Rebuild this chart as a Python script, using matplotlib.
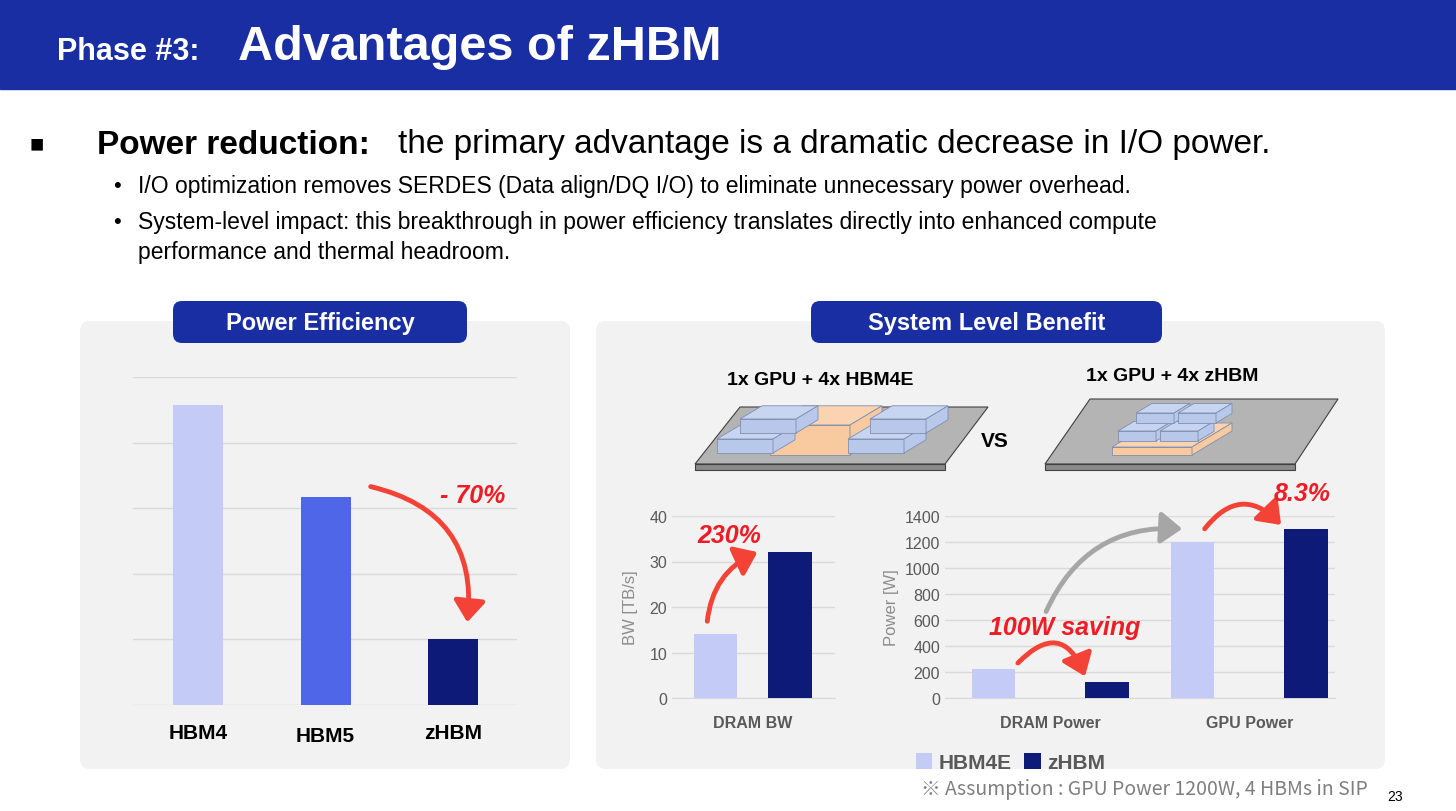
import matplotlib
matplotlib.use("Agg")
import matplotlib.pyplot as plt
from matplotlib.patches import FancyBboxPatch, Polygon, FancyArrowPatch, Rectangle
import numpy as np

plt.rcParams['font.family'] = ['Liberation Sans', 'DejaVu Sans']

W, H = 1456, 812
LIGHT, MID, DARK = '#c5cbf7', '#5066e8', '#0e1a78'
RED = '#ee1c24'
BLUE_HDR = '#1a2ea3'

# data
eff_labels = ['HBM4', 'HBM5', 'zHBM']
eff_values = [4.57, 3.17, 1.0]
bw_labels = ['DRAM BW']
bw_hbm4e = [14]
bw_zhbm = [32]
pw_labels = ['DRAM Power', 'GPU Power']
pw_hbm4e = [220, 1200]
pw_zhbm = [120, 1300]


def rect(x0, y0, x1, y1):
    return [x0 / W, 1 - y1 / H, (x1 - x0) / W, (y1 - y0) / H]


fig = plt.figure(figsize=(W / 100, H / 100), dpi=100)
bg = fig.add_axes([0, 0, 1, 1], zorder=0)
bg.set_xlim(0, W)
bg.set_ylim(H, 0)
bg.axis('off')

# header
bg.add_patch(Rectangle((0, 0), W, 90, color=BLUE_HDR))
bg.text(57, 52, 'Phase #3:', color='white', fontsize=22, fontweight='bold', va='center')
bg.text(238, 48, 'Advantages of zHBM', color='white', fontsize=35, fontweight='bold', va='center')

# bullets
bg.text(30, 145, '■', fontsize=17, va='center')
bg.text(97, 145, 'Power reduction:', fontsize=24, fontweight='bold', va='center')
bg.text(398, 145, 'the primary advantage is a dramatic decrease in I/O power.', fontsize=24, va='center')
subs = [(186, 'I/O optimization removes SERDES (Data align/DQ I/O) to eliminate unnecessary power overhead.'),
        (222, 'System-level impact: this breakthrough in power efficiency translates directly into enhanced compute')]
for y, t in subs:
    bg.text(113, y, '•', fontsize=16, va='center')
    bg.text(138, y, t, fontsize=16.5, va='center')
bg.text(138, 252, 'performance and thermal headroom.', fontsize=16.5, va='center')

# panels
for x0, x1 in [(80, 570), (596, 1385)]:
    bg.add_patch(FancyBboxPatch((x0, 322), x1 - x0, 448, boxstyle='round,pad=0,rounding_size=10',
                                fc='#f2f2f2', ec='none'))
for x0, x1, t in [(173, 467, 'Power Efficiency'), (811, 1162, 'System Level Benefit')]:
    bg.add_patch(FancyBboxPatch((x0, 302), x1 - x0, 42, boxstyle='round,pad=0,rounding_size=9',
                                fc=BLUE_HDR, ec='none'))
    bg.text((x0 + x1) / 2, 324, t, color='white', fontsize=17, fontweight='bold', ha='center', va='center')

# illustrations
bg.text(820, 381, '1x GPU + 4x HBM4E', fontsize=14, fontweight='bold', ha='center', va='center')
bg.text(1172, 377, '1x GPU + 4x zHBM', fontsize=14, fontweight='bold', ha='center', va='center')
bg.text(995, 442, 'VS', fontsize=15, fontweight='bold', ha='center', va='center')


def box3d(x, y, w, h, d, fc, top):
    # front face at (x, y) .. bottom-left
    bg.add_patch(Polygon([(x, y), (x + w, y), (x + w, y + h), (x, y + h)], fc=fc, ec='#7f8fb0', lw=0.6))
    bg.add_patch(Polygon([(x, y), (x + d, y - d * 0.6), (x + w + d, y - d * 0.6), (x + w, y)],
                         fc=top, ec='#7f8fb0', lw=0.6))
    bg.add_patch(Polygon([(x + w, y), (x + w + d, y - d * 0.6), (x + w + d, y + h - d * 0.6), (x + w, y + h)],
                         fc=fc, ec='#7f8fb0', lw=0.6))


for ox in (0, 350):
    bg.add_patch(Polygon([(695 + ox, 465), (945 + ox, 465), (988 + ox, 408 if ox == 0 else 400),
                          (740 + ox, 408 if ox == 0 else 400)], fc='#b4b4b4', ec='#404040', lw=0.8))
    bg.add_patch(Polygon([(695 + ox, 465), (945 + ox, 465), (945 + ox, 471), (695 + ox, 471)],
                         fc='#8a8a8a', ec='#404040', lw=0.8))
box3d(770, 426, 80, 30, 32, '#f9c9a0', '#fbd3b0')
for x, y in [(717, 440), (740, 420), (848, 440), (870, 420)]:
    box3d(x, y, 56, 14, 22, '#b7c8ea', '#c7d5f0')
box3d(1112, 448, 80, 8, 40, '#f9c9a0', '#fbd3b0')
for x, y in [(1118, 432), (1160, 432), (1136, 414), (1178, 414)]:
    box3d(x, y, 38, 10, 16, '#b7c8ea', '#c7d5f0')

# left chart
ax1 = fig.add_axes(rect(133, 378, 517, 706), zorder=2)
x = np.arange(len(eff_labels))
ax1.bar(x, eff_values, width=0.39, color=[LIGHT, MID, DARK], zorder=3)
ax1.set_xlim(-0.51, 2.5)
ax1.set_ylim(0, 5)
ax1.set_yticks(range(6))
ax1.yaxis.grid(True, color='#d9d9d9', lw=1)
ax1.set_yticklabels([])
ax1.tick_params(length=0)
ax1.set_xticks(x)
ax1.set_xticklabels(eff_labels, fontsize=15, fontweight='bold')
for lbl, dy in zip(ax1.get_xticklabels(), [0, 3, 0]):
    lbl.set_y(-0.04 - dy / 328)
for s in ax1.spines.values():
    s.set_visible(False)
ax1.set_facecolor('none')

# BW chart
ax2 = fig.add_axes(rect(672, 517, 835, 699), zorder=2)
xb = np.arange(len(bw_labels))
ax2.bar(xb - 0.2, bw_hbm4e, width=0.23, color=LIGHT, zorder=3)
ax2.bar(xb + 0.2, bw_zhbm, width=0.23, color=DARK, zorder=3)
ax2.set_xlim(-0.43, 0.44)
ax2.set_ylim(0, 40)
ax2.set_yticks(range(0, 41, 10))
ax2.set_ylabel('BW [TB/s]', fontsize=12, color='#8c8c8c', labelpad=8)
ax2.set_xticks(xb)
ax2.set_xticklabels(bw_labels, fontsize=13, fontweight='bold', color='#595959')

# Power chart
ax3 = fig.add_axes(rect(945, 517, 1335, 699), zorder=2)
xp = np.arange(len(pw_labels))
ax3.bar(xp - 0.286, pw_hbm4e, width=0.22, color=LIGHT, zorder=3, label='HBM4E')
ax3.bar(xp + 0.286, pw_zhbm, width=0.22, color=DARK, zorder=3, label='zHBM')
ax3.set_xlim(-0.53, 1.43)
ax3.set_ylim(0, 1400)
ax3.set_yticks(range(0, 1401, 200))
ax3.set_ylabel('Power [W]', fontsize=12, color='#8c8c8c', labelpad=4)
ax3.set_xticks(xp)
ax3.set_xticklabels(pw_labels, fontsize=13, fontweight='bold', color='#595959')
for ax in (ax2, ax3):
    ax.set_facecolor('none')
    ax.yaxis.grid(True, color='#d9d9d9', lw=1)
    ax.tick_params(length=0, labelsize=11.5, labelcolor='#595959')
    ax.tick_params(axis='x', pad=12)
    for k, s in ax.spines.items():
        s.set_visible(k == 'bottom')
        s.set_color('#d9d9d9')
ax3.legend(loc='upper left', bbox_to_anchor=((897 - 945) / 390, -0.2), ncol=2, frameon=False,
           fontsize=15, prop={'weight': 'bold', 'size': 15}, handlelength=0.8, handleheight=0.8,
           columnspacing=0.6, handletextpad=0.3, labelcolor='#595959')

# overlay arrows / annotations
top = fig.add_axes([0, 0, 1, 1], zorder=10)
top.set_xlim(0, W)
top.set_ylim(H, 0)
top.axis('off')


def arc(p0, p1, rad, color, lw=3.5):
    top.add_patch(FancyArrowPatch(p0, p1, connectionstyle=f'arc3,rad={rad}', arrowstyle='-|>,head_length=8,head_width=6',
                                  color=color, lw=lw, mutation_scale=1.6))


arc((368, 487), (467, 626), -0.45, '#f44336')
arc((707, 625), (760, 552), -0.3, '#f44336')
arc((1016, 666), (1086, 680), -0.8, '#f44336')
arc((1203, 532), (1283, 528), -0.6, '#f44336')
arc((1045, 615), (1185, 530), -0.35, '#a6a6a6')
top.text(505, 496, '- 70%', color=RED, fontsize=18, fontweight='bold', fontstyle='italic', ha='right', va='center')
top.text(729, 536, '230%', color=RED, fontsize=18, fontweight='bold', fontstyle='italic', ha='center', va='center')
top.text(1065, 628, '100W saving', color=RED, fontsize=18, fontweight='bold', fontstyle='italic', ha='center', va='center')
top.text(1302, 494, '8.3%', color=RED, fontsize=18, fontweight='bold', fontstyle='italic', ha='center', va='center')
top.text(1368, 790, '※ Assumption : GPU Power 1200W, 4 HBMs in SIP', color='#7f7f7f', fontsize=14,
         ha='right', va='center', family=['Noto Sans CJK JP', 'Liberation Sans'])
top.text(1395, 797, '23', fontsize=10, ha='center', va='center')

fig.savefig('out.png', dpi=100)
